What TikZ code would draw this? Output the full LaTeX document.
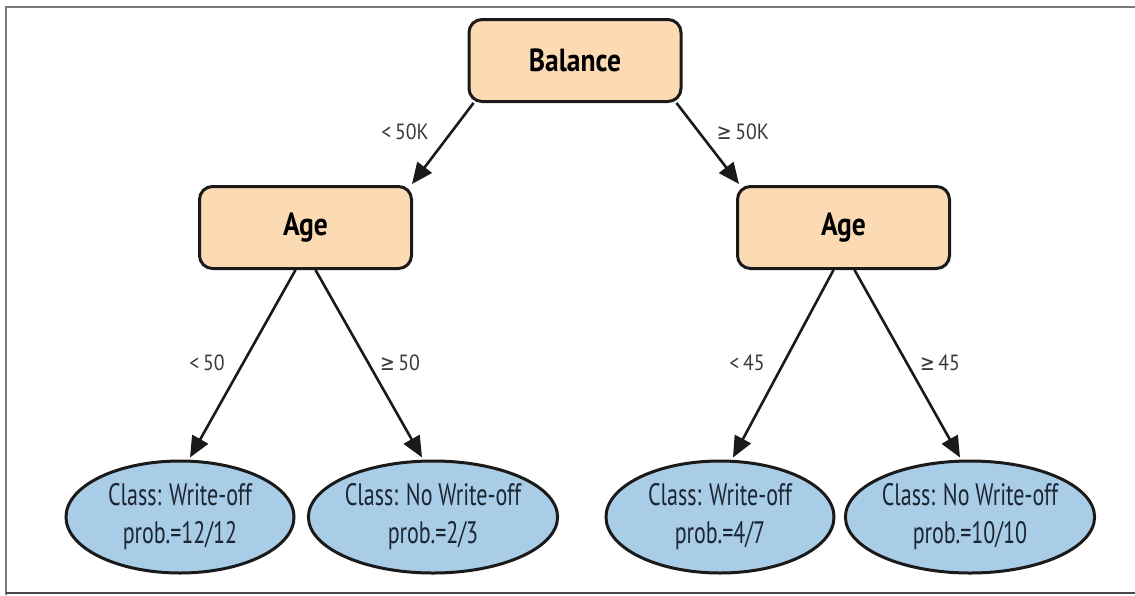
\documentclass[tikz,border=0pt]{standalone}
\usepackage{fontspec}
\setmainfont{PT Sans}
\newfontfamily\cond[FakeStretch=0.71]{PT Sans}
\newfontfamily\condb[FakeStretch=0.86]{PT Sans}
\newfontfamily\condl[FakeStretch=0.9]{PT Sans}
\newfontfamily\symf[FakeStretch=0.8]{DejaVu Sans}
\newcommand{\mygeq}{{\symf ≥}}
\usetikzlibrary{arrows.meta,calc,shapes.geometric}
\definecolor{peach}{HTML}{FCDAB3}
\definecolor{lblue}{HTML}{A9CDE7}
\definecolor{edge}{HTML}{1A1A1A}
\definecolor{lbl}{HTML}{3A3A3A}
\definecolor{leaftxt}{HTML}{1C2633}
\definecolor{framegray}{HTML}{7A7A7A}
\tikzset{
  testbox/.style={draw=edge, fill=peach, line width=3pt, rounded corners=13pt,
    minimum width=212pt, minimum height=82pt, inner sep=0pt,
    font=\condb\bfseries\fontsize{32}{34}\selectfont},
  leaf/.style={ellipse, draw=edge, fill=lblue, line width=3pt,
    minimum width=228pt, minimum height=112pt, inner sep=0pt, align=center,
    text=leaftxt, font=\cond\fontsize{31}{38}\selectfont},
  arr/.style={draw=edge, line width=2.6pt, -{Triangle[length=21pt,width=18pt]}},
  cond label/.style={text=lbl, font=\condl\fontsize{22}{24}\selectfont, inner sep=0pt}
}
\begin{document}
\begin{tikzpicture}[x=1pt,y=-1pt]
\useasboundingbox (0,0) rectangle (1135,595);
\fill[white] (0,0) rectangle (1135,595);
\draw[framegray, line width=2pt] (6,595) -- (6,7) -- (1135,7);
\draw[framegray!60!black, line width=2pt] (6,593) -- (1135,593);

\node[testbox] (bal) at (575,60.5) {Balance};
\node[testbox] (ageL) at (305.5,227.5) {Age};
\node[testbox] (ageR) at (843.5,227.5) {Age};

\node[leaf] (l1) at (180,517) {Class: Write-off\\prob.=12/12};
\node[leaf] (l2) at (433,517) {Class: No Write-off\\prob.=2/3};
\node[leaf] (l3) at (720,517) {Class: Write-off\\prob.=4/7};
\node[leaf] (l4) at (970,517) {Class: No Write-off\\prob.=10/10};

\draw[arr] ($(bal.south west)+(6,0)$) -- ($(ageL.north east)+(-1,-1)$);
\draw[arr] ($(bal.south east)+(-6,0)$) -- ($(ageR.north west)+(3,-1)$);
\draw[arr] ($(ageL.south)+(-10,0)$) -- ($(l1.north)+(10,-2)$);
\draw[arr] ($(ageL.south)+(10,0)$) -- ($(l2.north)+(-11,-2)$);
\draw[arr] ($(ageR.south)+(-10,0)$) -- ($(l3.north)+(13,-2)$);
\draw[arr] ($(ageR.south)+(11,0)$) -- ($(l4.north)+(-10,-2)$);

\node[cond label] (t1) at (405,132) {<\,50K};
\node[cond label] (t2) at (743,132) {\mygeq\,50K};
\node[cond label] (t3) at (207,363) {<\,50};
\node[cond label] (t4) at (400,363) {\mygeq\,50};
\node[cond label] (t5) at (747,363) {<\,45};
\node[cond label] (t6) at (940,363) {\mygeq\,45};
\end{tikzpicture}
\end{document}
